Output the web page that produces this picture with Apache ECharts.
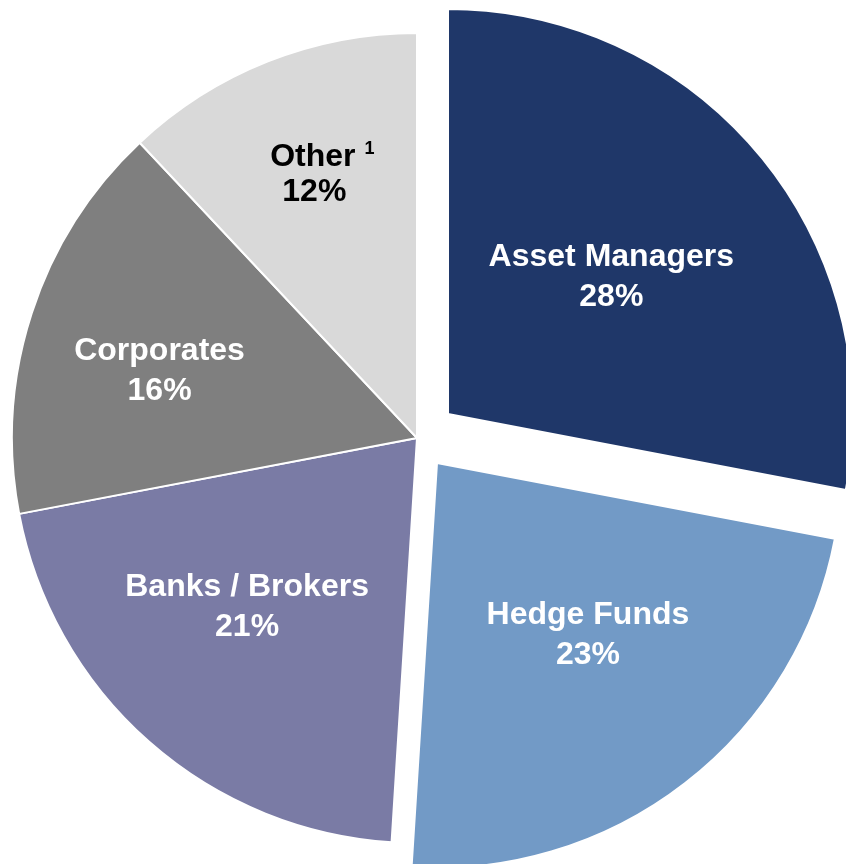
<!DOCTYPE html>
<html>
<head>
<meta charset="utf-8">
<script src="https://cdn.jsdelivr.net/npm/echarts@6/dist/echarts.min.js"></script>
<style>
html,body{margin:0;padding:0;background:#fff;}
#chart{width:846px;height:864px;}
</style>
</head>
<body>
<div id="chart"></div>
<script>
// ---- data ----
const categories = ['Asset Managers', 'Hedge Funds', 'Banks / Brokers', 'Corporates', 'Other'];
const shares = [28, 23, 21, 16, 12];
const footnotes = ['', '', '', '', '1'];

// ---- styles ----
const palette = ['#1F3769', '#729AC6', '#7A7BA5', '#7F7F7F', '#D9D9D9'];
const labelColors = ['#ffffff', '#ffffff', '#ffffff', '#ffffff', '#000000'];
const labelLineHeights = [40, 40, 40, 40, 35];
const labelNudge = [[5, -6], [25, 10], [-34, 15], [-62, -3], [-19, -72]];
const FONT = '"Liberation Sans", Arial, sans-serif';

const chart = echarts.init(document.getElementById('chart'), null, {renderer: 'canvas'});

function makeSeries(center, visibleIdx) {
  return {
    type: 'pie',
    center: center,
    radius: [0, 405],
    startAngle: 90,
    clockwise: true,
    silent: true,
    animation: false,
    avoidLabelOverlap: false,
    labelLine: {show: false},
    labelLayout: function (p) {
      const n = labelNudge[p.dataIndex];
      return {dx: n[0], dy: n[1]};
    },
    data: categories.map(function (name, i) {
      const vis = visibleIdx.indexOf(i) >= 0;
      return {
        name: name,
        value: shares[i],
        itemStyle: vis
          ? {color: palette[i], borderColor: '#ffffff', borderWidth: 2}
          : {color: 'rgba(0,0,0,0)', borderWidth: 0},
        label: {
          show: vis,
          position: 'inside',
          color: labelColors[i],
          fontFamily: FONT,
          fontWeight: 'bold',
          fontSize: 32,
          lineHeight: labelLineHeights[i],
          align: 'center',
          formatter: function (p) {
            const fn = footnotes[p.dataIndex];
            if (fn) {
              return p.name + ' {sup|' + fn + '}\n{pct|' + p.value + '%}';
            }
            return p.name + '\n' + p.value + '%';
          },
          rich: {
            sup: {
              fontFamily: FONT,
              fontWeight: 'bold',
              fontSize: 18,
              color: labelColors[i],
              verticalAlign: 'top',
              padding: [0, 0, 14, 0]
            },
            pct: {
              fontFamily: FONT,
              fontWeight: 'bold',
              fontSize: 32,
              color: labelColors[i],
              padding: [0, 16, 0, 0]
            }
          }
        }
      };
    })
  };
}

chart.setOption({
  backgroundColor: '#ffffff',
  animation: false,
  series: [
    makeSeries([417, 438], [2, 3, 4]),
    makeSeries([448, 414], [0]),
    makeSeries([437, 463], [1])
  ]
});
</script>
</body>
</html>
